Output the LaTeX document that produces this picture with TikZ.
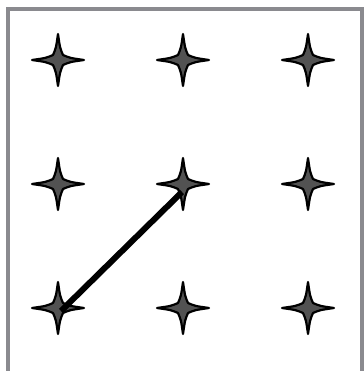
\documentclass[tikz,border=0pt]{standalone}
\begin{document}
\begin{tikzpicture}[x=1pt,y=-1pt,
  starfill/.style={fill=black!68,draw=black,line width=2.2pt,line join=round},
  frame/.style={draw={rgb,255:red,138;green,138;blue,143},line width=4pt},
  link/.style={draw=black,line width=6pt}]
\useasboundingbox (0,0) rectangle (363,371);
\fill[white] (0,0) rectangle (363,371);
\draw[frame] (8,9) rectangle (361.5,376);
\foreach \r/\yy in {1/60,2/184,3/308}{
  \foreach \c/\xx in {1/58,2/183,3/308}{
    \coordinate (s\r\c) at (\xx,\yy);
    \path[starfill,shift={(\xx,\yy)}]
      (26,0) .. controls (12,2) .. (5,5) .. controls (2,12) .. (0,26)
      .. controls (-2,12) .. (-5,5) .. controls (-12,2) .. (-26,0)
      .. controls (-12,-2) .. (-5,-5) .. controls (-2,-12) .. (0,-26)
      .. controls (2,-12) .. (5,-5) .. controls (12,-2) .. cycle;
  }
}
\draw[link] ([shift={(3,3)}]s31) -- ([shift={(-1,8)}]s22);
\end{tikzpicture}
\end{document}
